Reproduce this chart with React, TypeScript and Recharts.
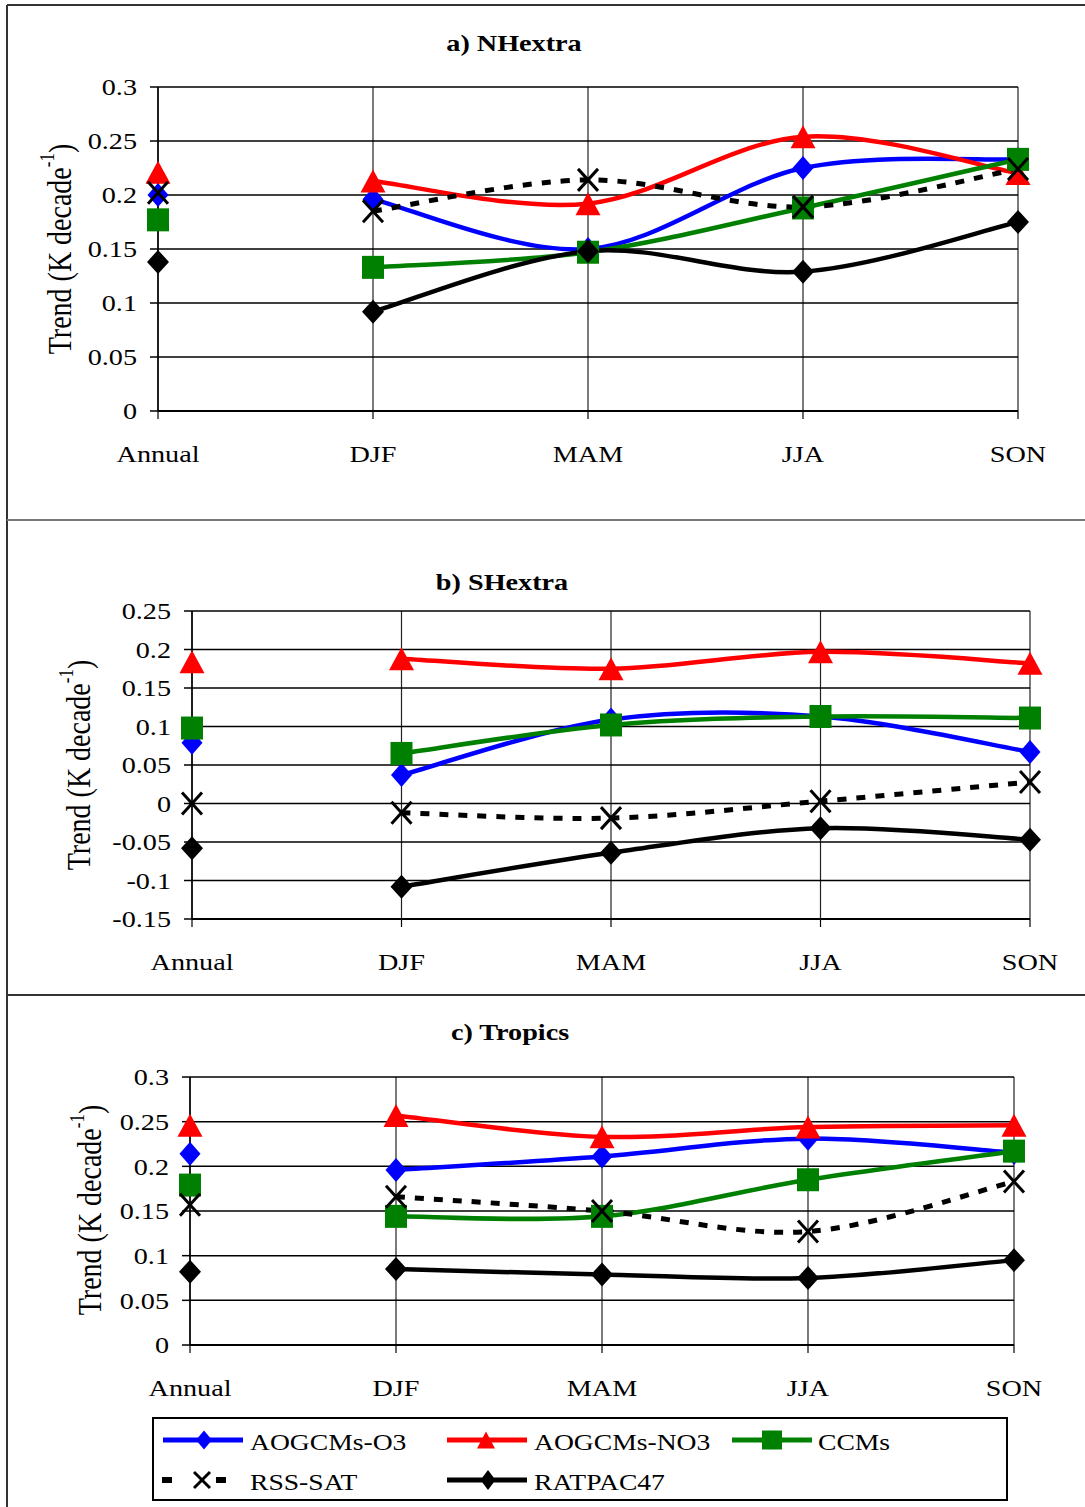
import React from "react";
import { LineChart, Line, XAxis, YAxis, CartesianGrid } from "recharts";

const categories = ["Annual", "DJF", "MAM", "JJA", "SON"];

// a) NHextra
const nhO3 = [0.2, 0.196, 0.15, 0.225, 0.233];
const nhNO3 = [0.221, 0.213, 0.192, 0.254, 0.22];
const nhCCM = [0.177, 0.133, 0.147, 0.188, 0.233];
const nhRSS = [0.202, 0.185, 0.214, 0.189, 0.224];
const nhRAT = [0.138, 0.092, 0.148, 0.129, 0.175];

// b) SHextra
const shO3 = [0.079, 0.037, 0.109, 0.113, 0.067];
const shNO3 = [0.184, 0.188, 0.175, 0.197, 0.182];
const shCCM = [0.098, 0.065, 0.102, 0.113, 0.111];
const shRSS = [0.0, -0.012, -0.019, 0.003, 0.028];
const shRAT = [-0.058, -0.108, -0.064, -0.032, -0.047];

// c) Tropics
const trO3 = [0.214, 0.196, 0.211, 0.231, 0.215];
const trNO3 = [0.246, 0.257, 0.233, 0.244, 0.246];
const trCCM = [0.179, 0.144, 0.144, 0.185, 0.217];
const trRSS = [0.157, 0.166, 0.15, 0.127, 0.183];
const trRAT = [0.082, 0.085, 0.079, 0.075, 0.095];

const ticksNH = [0, 0.05, 0.1, 0.15, 0.2, 0.25, 0.3];
const ticksSH = [-0.15, -0.1, -0.05, 0, 0.05, 0.1, 0.15, 0.2, 0.25];
const ticksTR = [0, 0.05, 0.1, 0.15, 0.2, 0.25, 0.3];

const SERIES = [
  { key: "o3", name: "AOGCMs-O3", color: "#0000ff", shape: "diamond", dash: undefined as string | undefined },
  { key: "no3", name: "AOGCMs-NO3", color: "#ff0000", shape: "triangle", dash: undefined },
  { key: "ccm", name: "CCMs", color: "#008000", shape: "square", dash: undefined },
  { key: "rss", name: "RSS-SAT", color: "#000000", shape: "x", dash: "9 10" },
  { key: "rat", name: "RATPAC47", color: "#000000", shape: "diamond", dash: undefined },
];

const FONT = '"Liberation Serif", "Times New Roman", serif';

const buildRows = (vals: Record<string, number[]>) =>
  categories.map((cat, i) => {
    const row: any = { cat };
    SERIES.forEach((s) => {
      row[s.key + "Ann"] = i === 0 ? vals[s.key][i] : null;
      row[s.key] = i === 0 ? null : vals[s.key][i];
    });
    return row;
  });

const rowsNH = buildRows({ o3: nhO3, no3: nhNO3, ccm: nhCCM, rss: nhRSS, rat: nhRAT });
const rowsSH = buildRows({ o3: shO3, no3: shNO3, ccm: shCCM, rss: shRSS, rat: shRAT });
const rowsTR = buildRows({ o3: trO3, no3: trNO3, ccm: trCCM, rss: trRSS, rat: trRAT });

// Excel-style smoothed line (Catmull-Rom bezier)
const excelSmooth = (context: any) => {
  let pts: number[][] = [];
  return {
    areaStart() {},
    areaEnd() {},
    lineStart() {
      pts = [];
    },
    point(x: number, y: number) {
      pts.push([+x, +y]);
    },
    lineEnd() {
      if (!pts.length) return;
      context.moveTo(pts[0][0], pts[0][1]);
      for (let i = 0; i < pts.length - 1; i++) {
        const p0 = pts[i - 1] || pts[i];
        const p1 = pts[i];
        const p2 = pts[i + 1];
        const p3 = pts[i + 2] || pts[i + 1];
        context.bezierCurveTo(
          p1[0] + (p2[0] - p0[0]) / 6,
          p1[1] + (p2[1] - p0[1]) / 6,
          p2[0] - (p3[0] - p1[0]) / 6,
          p2[1] - (p3[1] - p1[1]) / 6,
          p2[0],
          p2[1]
        );
      }
    },
  };
};

function Marker({ shape, color, cx, cy, w = 11, h = 11 }: any) {
  if (shape === "diamond")
    return (
      <polygon
        points={`${cx},${cy - h} ${cx + w},${cy} ${cx},${cy + h} ${cx - w},${cy}`}
        fill={color}
      />
    );
  if (shape === "triangle")
    return (
      <polygon
        points={`${cx},${cy - h} ${cx + w},${cy + h} ${cx - w},${cy + h}`}
        fill={color}
      />
    );
  if (shape === "square")
    return <rect x={cx - w} y={cy - h} width={w * 2} height={h * 2} fill={color} />;
  return (
    <g stroke={color} strokeWidth={3}>
      <line x1={cx - w} y1={cy - h} x2={cx + w} y2={cy + h} />
      <line x1={cx - w} y1={cy + h} x2={cx + w} y2={cy - h} />
    </g>
  );
}

const markerSize: Record<string, { w: number; h: number }> = {
  o3: { w: 10.5, h: 12 },
  no3: { w: 12.5, h: 11.5 },
  ccm: { w: 11, h: 11.5 },
  rss: { w: 10, h: 11 },
  rat: { w: 11, h: 12 },
};

const makeDot = (s: any) => (props: any) => {
  const { cx, cy, value, index } = props;
  const k = `${s.key}-${index}`;
  if (value == null || cx == null || cy == null || isNaN(cy)) return <g key={k} />;
  return (
    <Marker
      key={k}
      shape={s.shape}
      color={s.color}
      cx={cx}
      cy={cy}
      w={markerSize[s.key].w}
      h={markerSize[s.key].h}
    />
  );
};

const XTick = (props: any) => {
  const { x, y, payload } = props;
  return (
    <text
      transform={`translate(${x},${y}) scale(1.2,1)`}
      textAnchor="middle"
      dy="0.71em"
      fontFamily={FONT}
      fontSize={23.5}
      fill="#000"
    >
      {payload.value}
    </text>
  );
};

const YTick = (props: any) => {
  const { x, y, payload } = props;
  return (
    <text
      transform={`translate(${x},${y}) scale(1.2,1)`}
      textAnchor="end"
      dy="0.35em"
      fontFamily={FONT}
      fontSize={23.5}
      fill="#000"
    >
      {String(payload.value)}
    </text>
  );
};

function Panel({ rows, ticks, top, height, margin }: any) {
  return (
    <div style={{ position: "absolute", left: 0, top, width: 1085, height }}>
      <LineChart width={1085} height={height} data={rows} margin={margin}>
        <CartesianGrid horizontal={false} stroke="#222" strokeWidth={1.2} />
        <CartesianGrid vertical={false} stroke="#000" strokeWidth={1.5} />
        <XAxis
          dataKey="cat"
          interval={0}
          height={60}
          tickSize={8}
          tickMargin={26}
          tick={<XTick />}
          axisLine={{ stroke: "#000", strokeWidth: 2 }}
          tickLine={{ stroke: "#000", strokeWidth: 1.2 }}
        />
        <YAxis
          type="number"
          domain={[ticks[0], ticks[ticks.length - 1]]}
          ticks={ticks}
          interval={0}
          width={60}
          tickSize={8}
          tickMargin={13}
          tick={<YTick />}
          axisLine={{ stroke: "#000", strokeWidth: 1.5 }}
          tickLine={{ stroke: "#000", strokeWidth: 1.5 }}
        />
        {SERIES.map((s) => (
          <Line
            key={s.key + "Ann"}
            dataKey={s.key + "Ann"}
            stroke="none"
            dot={makeDot(s)}
            activeDot={false}
            isAnimationActive={false}
          />
        ))}
        {SERIES.map((s) => (
          <Line
            key={s.key}
            dataKey={s.key}
            type={excelSmooth as any}
            stroke={s.color}
            strokeWidth={s.dash ? 5 : 4.5}
            strokeDasharray={s.dash}
            dot={makeDot(s)}
            activeDot={false}
            isAnimationActive={false}
          />
        ))}
      </LineChart>
    </div>
  );
}

function YLabel({ cx, cy }: { cx: number; cy: number }) {
  return (
    <text
      transform={`translate(${cx},${cy}) scale(1.2,1) rotate(-90)`}
      textAnchor="middle"
      dominantBaseline="central"
      fontFamily={FONT}
      fontSize={28}
      fill="#000"
    >
      Trend (K decade
      <tspan fontSize={17} dy={-11}>
        -1
      </tspan>
      <tspan dy={11}>)</tspan>
    </text>
  );
}

function Title({ x, y, children }: any) {
  return (
    <text
      transform={`translate(${x},${y}) scale(1.2,1)`}
      textAnchor="middle"
      fontFamily={FONT}
      fontWeight="bold"
      fontSize={23.5}
      fill="#000"
    >
      {children}
    </text>
  );
}

function LegendText({ x, y, children }: any) {
  return (
    <text
      transform={`translate(${x},${y}) scale(1.15,1)`}
      fontFamily={FONT}
      fontSize={24}
      fill="#000"
    >
      {children}
    </text>
  );
}

export default function App() {
  return (
    <div
      style={{
        position: "absolute",
        left: 0,
        top: 0,
        width: 1085,
        height: 1507,
        background: "#fff",
        overflow: "hidden",
      }}
    >
      <svg
        width={1085}
        height={1507}
        style={{ position: "absolute", left: 0, top: 0 }}
      >
        {/* frame */}
        <line x1={7} y1={5} x2={1085} y2={5} stroke="#333" strokeWidth={2} />
        <line x1={7} y1={5} x2={7} y2={1507} stroke="#333" strokeWidth={2} />
        <line x1={7} y1={520} x2={1085} y2={520} stroke="#777" strokeWidth={2} />
        <line x1={7} y1={995} x2={1085} y2={995} stroke="#333" strokeWidth={2} />

        <Title x={514} y={51}>a) NHextra</Title>
        <Title x={502} y={590}>b) SHextra</Title>
        <Title x={510} y={1040}>c) Tropics</Title>

        <YLabel cx={60} cy={249} />
        <YLabel cx={79} cy={765} />
        <YLabel cx={90} cy={1210} />

        {/* legend */}
        <rect x={153} y={1418} width={854} height={82} fill="none" stroke="#000" strokeWidth={2} />
        <line x1={163} y1={1440} x2={243} y2={1440} stroke="#0000ff" strokeWidth={5} />
        <Marker shape="diamond" color="#0000ff" cx={204} cy={1440} w={8} h={9.5} />
        <LegendText x={250} y={1450}>AOGCMs-O3</LegendText>

        <line x1={447} y1={1440} x2={527} y2={1440} stroke="#ff0000" strokeWidth={5} />
        <Marker shape="triangle" color="#ff0000" cx={486} cy={1440} w={9} h={8.5} />
        <LegendText x={534} y={1450}>AOGCMs-NO3</LegendText>

        <line x1={732} y1={1440} x2={812} y2={1440} stroke="#008000" strokeWidth={5} />
        <Marker shape="square" color="#008000" cx={772} cy={1440} w={10} h={9.5} />
        <LegendText x={818} y={1450}>CCMs</LegendText>

        <rect x={162} y={1477} width={10} height={6} fill="#000" />
        <rect x={216} y={1477} width={10} height={6} fill="#000" />
        <Marker shape="x" color="#000" cx={202} cy={1480} w={8} h={8} />
        <LegendText x={250} y={1490}>RSS-SAT</LegendText>

        <line x1={447} y1={1480} x2={527} y2={1480} stroke="#000" strokeWidth={5} />
        <Marker shape="diamond" color="#000" cx={488} cy={1480} w={7.5} h={10} />
        <LegendText x={534} y={1490}>RATPAC47</LegendText>
      </svg>

      <Panel
        rows={rowsNH}
        ticks={ticksNH}
        top={0}
        height={520}
        margin={{ top: 87, right: 67, bottom: 49, left: 98 }}
      />
      <Panel
        rows={rowsSH}
        ticks={ticksSH}
        top={520}
        height={475}
        margin={{ top: 91, right: 55, bottom: 16, left: 132 }}
      />
      <Panel
        rows={rowsTR}
        ticks={ticksTR}
        top={995}
        height={415}
        margin={{ top: 82, right: 71, bottom: 5, left: 130 }}
      />
    </div>
  );
}
